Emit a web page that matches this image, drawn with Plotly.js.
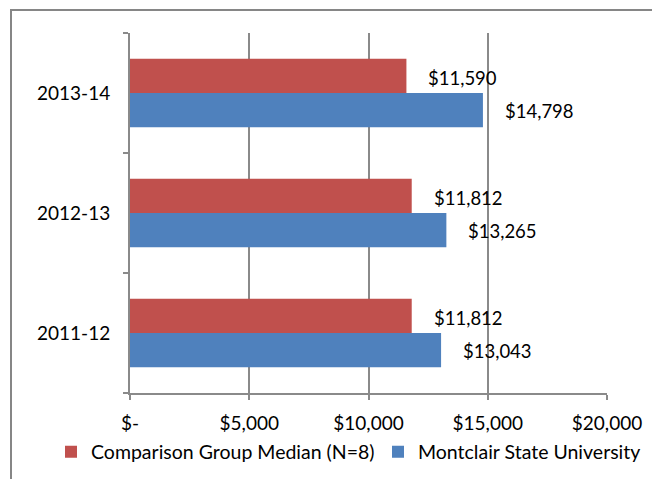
<!DOCTYPE html>
<html>
<head>
<meta charset="utf-8">
<script src="https://cdn.plot.ly/plotly-3.0.1.min.js"></script>
<style>
html,body{margin:0;padding:0;overflow:hidden;background:#fff;}
#frame{position:absolute;left:10px;top:9px;width:1000px;height:1000px;border:2px solid #868686;pointer-events:none;z-index:2;}
#chart{position:absolute;left:0;top:0;width:652px;height:479px;}
</style>
</head>
<body>
<div id="chart"></div>
<div id="frame"></div>
<script>
var categories = ['2011-12', '2012-13', '2013-14'];
var comparisonMedian = [11812, 11812, 11590];
var montclair = [13043, 13265, 14798];
var seriesNames = ['Comparison Group Median (N=8)', 'Montclair State University'];
var tickValues = [0, 5000, 10000, 15000, 20000];
var tickLabels = ['$-', '$5,000', '$10,000', '$15,000', '$20,000'];

function money(v){ return '$' + v.toLocaleString('en-US'); }

var FONT = 'Lato, "Open Sans", sans-serif';

var traces = [
  {type:'bar', orientation:'h', name:seriesNames[1], y:categories, x:montclair,
   marker:{color:'#4F81BD'}, hoverinfo:'skip', legend:'legend2'},
  {type:'bar', orientation:'h', name:seriesNames[0], y:categories, x:comparisonMedian,
   marker:{color:'#C0504D'}, hoverinfo:'skip', legend:'legend'}
];

var annotations = [];
categories.forEach(function(c,i){
  annotations.push({x:comparisonMedian[i], y:c, xref:'x', yref:'y', text:money(comparisonMedian[i]),
    showarrow:false, xanchor:'left', yanchor:'middle', xshift:20, yshift:15,
    font:{family:FONT, size:18.5, color:'#000'}});
  annotations.push({x:montclair[i], y:c, xref:'x', yref:'y', text:money(montclair[i]),
    showarrow:false, xanchor:'left', yanchor:'middle', xshift:20, yshift:-18,
    font:{family:FONT, size:18.5, color:'#000'}});
});

var legendCommon = {orientation:'h', yref:'container', y:0.0564, yanchor:'middle', xref:'container',
  xanchor:'left', itemwidth:30, font:{family:FONT, size:19.5, color:'#000'},
  bgcolor:'rgba(0,0,0,0)'};

var layout = {
  width:652, height:479,
  margin:{l:130, r:45, t:33, b:86},
  paper_bgcolor:'rgba(0,0,0,0)', plot_bgcolor:'rgba(0,0,0,0)',
  barmode:'group', bargap:0.43, bargroupgap:0,
  font:{family:FONT, size:19, color:'#000'},
  xaxis:{range:[0,20000], tickvals:tickValues, ticktext:tickLabels,
    showgrid:true, gridcolor:'#8a8a8a', gridwidth:2,
    showline:true, linecolor:'#8a8a8a', linewidth:2,
    ticks:'outside', ticklen:5, tickcolor:'#8a8a8a', tickwidth:2,
    ticklabelstandoff:7, zeroline:false, fixedrange:true,
    tickfont:{family:FONT, size:19, color:'#000'}},
  yaxis:{type:'category', categoryorder:'array', categoryarray:categories,
    range:[-0.5, 2.5],
    showgrid:false, showline:true, linecolor:'#8a8a8a', linewidth:2,
    ticks:'outside', tickson:'boundaries', ticklen:5, tickcolor:'#8a8a8a', tickwidth:2,
    ticklabelstandoff:14, zeroline:false, fixedrange:true,
    tickfont:{family:FONT, size:19, color:'#000'}},
  showlegend:true,
  legend:Object.assign({}, legendCommon, {x:51/652}),
  legend2:Object.assign({}, legendCommon, {x:378/652}),
  annotations:annotations
};

Plotly.newPlot('chart', traces, layout, {displayModeBar:false, staticPlot:true});
</script>
</body>
</html>
